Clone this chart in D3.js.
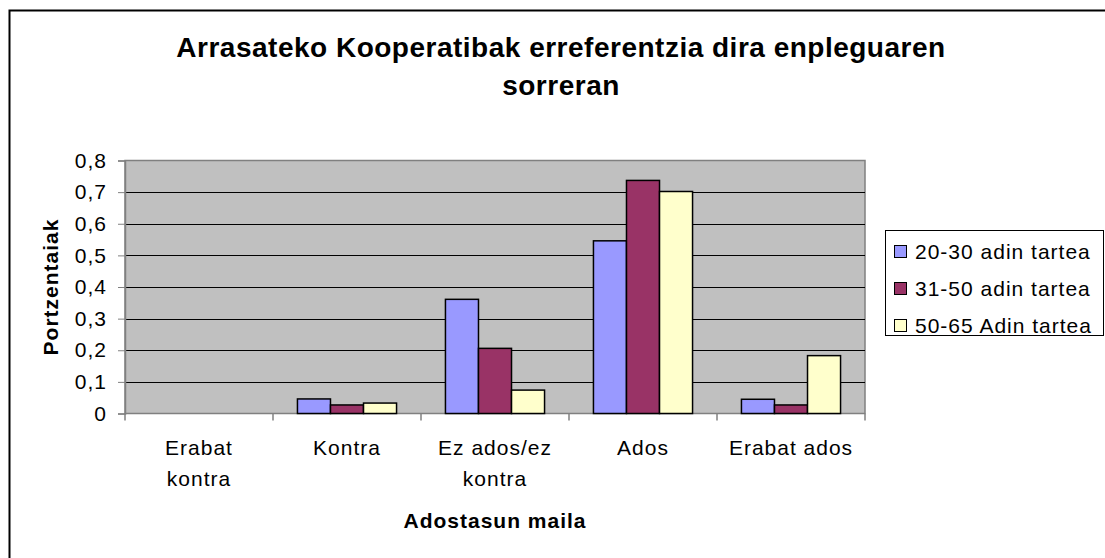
<html>
<head>
  <title>Arrasateko Kooperatibak</title>
  <script src="https://d3js.org/d3.v7.min.js"></script>
  <style>
    body { margin: 0; background: #fff; }
    text { font-family: Arial, "Liberation Sans", sans-serif; }
  </style>
</head>
<body>
  <script>
    var categories = [["Erabat", "kontra"], ["Kontra"], ["Ez ados/ez", "kontra"], ["Ados"], ["Erabat ados"]];
    var seriesNames = ["20-30 adin tartea", "31-50 adin tartea", "50-65 Adin tartea"];
    var age2030 = [0, 0.046, 0.361, 0.546, 0.045];
    var age3150 = [0, 0.027, 0.206, 0.737, 0.027];
    var age5065 = [0, 0.033, 0.074, 0.702, 0.183];
    var yTicks = [0, 0.1, 0.2, 0.3, 0.4, 0.5, 0.6, 0.7, 0.8];
    var colors = ["#9999ff", "#993366", "#ffffcc"];

    var w = 1105, h = 558;
    var pLeft = 125, pRight = 865, pTop = 160.5, pBottom = 413.5;
    var svg = d3.select("body").append("svg").attr("width", w).attr("height", h);

    // outer chart border (right/bottom run off the picture)
    svg.append("rect").attr("x", 9.5).attr("y", 10.5).attr("width", 1110).attr("height", 560)
      .attr("fill", "#fff").attr("stroke", "#000").attr("stroke-width", 2);

    svg.append("text").attr("x", 561).attr("y", 57).attr("text-anchor", "middle").attr("letter-spacing", 0.5)
      .attr("font-size", 28).attr("font-weight", "bold").text("Arrasateko Kooperatibak erreferentzia dira enpleguaren");
    svg.append("text").attr("x", 561).attr("y", 95).attr("text-anchor", "middle").attr("letter-spacing", 0.5)
      .attr("font-size", 28).attr("font-weight", "bold").text("sorreran");

    var x0 = d3.scaleBand().domain(d3.range(categories.length)).range([pLeft, pRight]);
    var x1 = d3.scaleBand().domain(d3.range(3)).range([0, x0.bandwidth()]).paddingOuter(0.74);
    var y = d3.scaleLinear().domain([0, 0.8]).range([pBottom, pTop]);

    svg.append("rect").attr("x", pLeft).attr("y", pTop).attr("width", pRight - pLeft).attr("height", pBottom - pTop)
      .attr("fill", "#c0c0c0").attr("stroke", "#808080").attr("stroke-width", 1.5);

    svg.selectAll("line.grid").data(yTicks.slice(1, -1)).enter().append("line")
      .attr("x1", pLeft).attr("x2", pRight)
      .attr("y1", function(d){return Math.round(y(d)) + 0.5;}).attr("y2", function(d){return Math.round(y(d)) + 0.5;})
      .attr("stroke", "#000").attr("stroke-width", 1);

    var series = [age2030, age3150, age5065];
    series.forEach(function(vals, s) {
      svg.selectAll("rect.s" + s).data(vals).enter().append("rect")
        .attr("x", function(d, i){return x0(i) + x1(s);})
        .attr("width", x1.bandwidth())
        .attr("y", function(d){return y(d);})
        .attr("height", function(d){return pBottom - y(d);})
        .attr("fill", colors[s]).attr("stroke", "#000").attr("stroke-width", 1.5)
        .style("display", function(d){return d > 0 ? null : "none";});
    });

    var yAxis = d3.axisLeft(y).tickValues(yTicks).tickSize(7).tickPadding(11)
      .tickFormat(function(d){return d === 0 ? "0" : d3.format(".1f")(d).replace(".", ",");});
    var ya = svg.append("g").attr("transform", "translate(" + pLeft + ",0)").call(yAxis);
    ya.select(".domain").attr("stroke", "#808080").attr("stroke-width", 1.5);
    ya.selectAll(".tick line").attr("stroke", "#808080");
    ya.selectAll("text").attr("font-size", 21).attr("letter-spacing", 1).attr("fill", "#000")
      .attr("font-family", "Arial, 'Liberation Sans', sans-serif");

    var xt = d3.range(categories.length + 1).map(function(i){return pLeft + i * x0.bandwidth();});
    svg.selectAll("line.xt").data(xt).enter().append("line")
      .attr("x1", function(d){return d;}).attr("x2", function(d){return d;})
      .attr("y1", pBottom).attr("y2", pBottom + 7).attr("stroke", "#808080").attr("stroke-width", 1.5);

    categories.forEach(function(lines, i) {
      var cx = x0(i) + x0.bandwidth() / 2;
      var t = svg.append("text").attr("text-anchor", "middle").attr("font-size", 21).attr("letter-spacing", 1)
        .attr("x", cx).attr("y", 455);
      lines.forEach(function(l, j) {
        t.append("tspan").attr("x", cx).attr("dy", j === 0 ? 0 : 31).text(l);
      });
    });

    svg.append("text").attr("x", 495).attr("y", 528).attr("text-anchor", "middle").attr("letter-spacing", 1)
      .attr("font-size", 21).attr("font-weight", "bold").text("Adostasun maila");
    svg.append("text").attr("transform", "translate(58,287) rotate(-90)").attr("text-anchor", "middle")
      .attr("letter-spacing", 1).attr("font-size", 21).attr("font-weight", "bold").text("Portzentaiak");

    // legend
    var lg = svg.append("g");
    lg.append("rect").attr("x", 885.5).attr("y", 230.5).attr("width", 218).attr("height", 105)
      .attr("fill", "#fff").attr("stroke", "#000").attr("stroke-width", 1);
    seriesNames.forEach(function(n, i) {
      var cy = 251 + i * 37;
      lg.append("rect").attr("x", 894.5).attr("y", cy - 5.5).attr("width", 12).attr("height", 12)
        .attr("fill", colors[i]).attr("stroke", "#000").attr("stroke-width", 1);
      lg.append("text").attr("x", 915).attr("y", cy + 8).attr("font-size", 21).attr("letter-spacing", 1).text(n);
    });
  </script>
</body>
</html>
